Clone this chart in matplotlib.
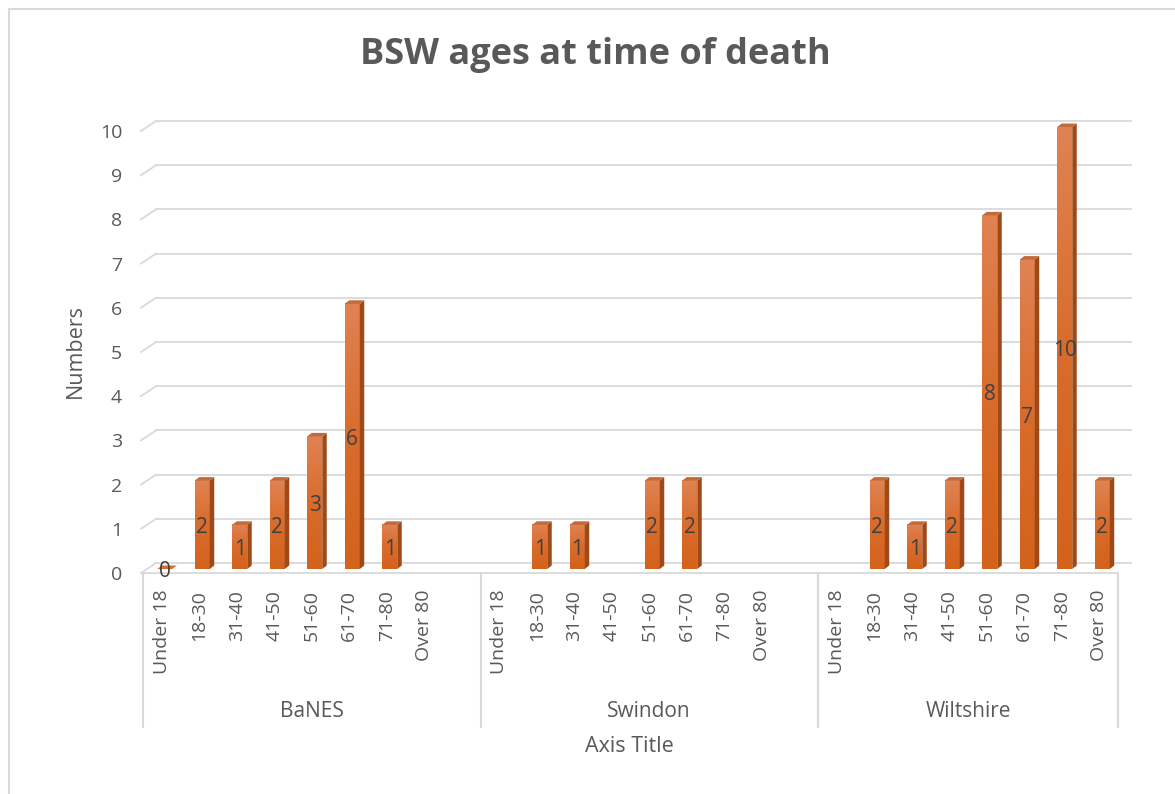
import numpy as np
import matplotlib
matplotlib.use("Agg")
import matplotlib.pyplot as plt
from matplotlib.patches import Polygon, Rectangle
from matplotlib.colors import LinearSegmentedColormap

plt.rcParams['font.family'] = ['Open Sans', 'DejaVu Sans']

# ages at time of death, one list per area (None = no entry)
age_bands = ['Under 18', '18-30', '31-40', '41-50', '51-60', '61-70', '71-80', 'Over 80']
areas = ['BaNES', 'Swindon', 'Wiltshire']
banes = [0, 2, 1, 2, 3, 6, 1, None]
swindon = [None, 1, 1, None, 2, 2, None, None]
wiltshire = [None, 2, 1, 2, 8, 7, 10, 2]

W, H = 1175, 794
fig = plt.figure(figsize=(W / 100, H / 100), dpi=100)
fig.patch.set_facecolor('white')

# plot area in pixels (front plane)
left, right, top, bottom = 143, 1118, 131, 573
ax = fig.add_axes([left / W, 1 - bottom / H, (right - left) / W, (bottom - top) / H])

# lay the groups out with an empty slot after the first two
slots = []
values = []
labels = []
group_spans = []
pos = 0
for gi, (name, vals) in enumerate(zip(areas, [banes, swindon, wiltshire])):
    start = pos
    for band, v in zip(age_bands, vals):
        slots.append(pos)
        values.append(v)
        labels.append(band)
        pos += 1
    group_spans.append((start - 0.5, pos - 0.5))
    if gi < len(areas) - 1:
        pos += 1
n_slots = pos

ax.set_xlim(-0.5, n_slots - 0.5)
ax.set_ylim(0, 10)

# pixel -> data unit conversions
ppx = (right - left) / n_slots
ppy = (bottom - top) / 10.0

grid_c = '#D9D9D9'
text_c = '#595959'

# back wall gridlines with the side wall step
wall_dx, wall_dy = 13 / ppx, 10 / ppy
x0, x1 = -0.5, n_slots - 0.5
for g in range(11):
    ax.plot([x0 + wall_dx, x1 + wall_dx], [g + wall_dy, g + wall_dy],
            color=grid_c, lw=1.3, clip_on=False, zorder=1)
    ax.plot([x0 - 2 / ppx, x0 + wall_dx], [g, g + wall_dy],
            color=grid_c, lw=1.3, clip_on=False, zorder=1)
# front edge of the floor
ax.plot([x0 - 2 / ppx, x1], [0, 0], color=grid_c, lw=1.3, clip_on=False, zorder=1)

# 3-D looking columns
bar_w = 15 / ppx
off_x, off_y = 3 / ppx, 4 / ppy
dep_x, dep_y = 4.5 / ppx, 3.5 / ppy
grad = LinearSegmentedColormap.from_list('col', ['#D3621B', '#D96C2C', '#E08253'])
side_c = '#9E4A18'
top_c = '#C26A3A'

for s, v in zip(slots, values):
    if v is None:
        continue
    bx0 = s - bar_w / 2 + off_x
    bx1 = bx0 + bar_w
    by0 = off_y
    by1 = v + off_y
    if v > 0:
        img = np.linspace(0, 1, 100).reshape(-1, 1)
        ax.imshow(img, cmap=grad, origin='lower', aspect='auto',
                  extent=[bx0, bx1, by0, by1], zorder=3, clip_on=False)
        ax.add_patch(Polygon([[bx1, by0], [bx1 + dep_x, by0 + dep_y],
                              [bx1 + dep_x, by1 + dep_y], [bx1, by1]],
                             closed=True, facecolor=side_c, edgecolor='none',
                             zorder=3, clip_on=False))
    ax.add_patch(Polygon([[bx0, by1], [bx0 + dep_x, by1 + dep_y],
                          [bx1 + dep_x, by1 + dep_y], [bx1, by1]],
                         closed=True, facecolor=top_c if v > 0 else '#D96C2C',
                         edgecolor='none', zorder=3, clip_on=False))
    ax.text(s + off_x, v / 2 + off_y * 0.3, str(v), ha='center', va='center',
            fontsize=15, color='#404040', zorder=5)

ax.set_xlim(-0.5, n_slots - 0.5)
ax.set_ylim(0, 10)

for sp in ax.spines.values():
    sp.set_visible(False)
ax.set_facecolor('none')

ax.set_yticks(range(11))
ax.tick_params(axis='y', length=0, pad=15, labelsize=14, labelcolor=text_c)
ax.set_xticks(slots)
ax.set_xticklabels(labels, rotation=90)
ax.tick_params(axis='x', length=0, pad=12, labelsize=14, labelcolor=text_c)

# multi-level category axis: separators and area names
xt = ax.get_xaxis_transform()
sep_bottom = -(727 - bottom) / (bottom - top)
edges = sorted(set([g[0] for g in group_spans] + [group_spans[-1][1]]))
for e in edges:
    ax.plot([e, e], [0, sep_bottom], color=grid_c, lw=1.5, transform=xt, clip_on=False)
for name, (a, b) in zip(areas, group_spans):
    if name == areas[-1]:
        b = n_slots - 0.5
    else:
        b = b + 1
    ax.text((a + b) / 2, -(712 - bottom) / (bottom - top), name, transform=xt,
            ha='center', va='center', fontsize=15, color=text_c)

fig.text(595 / W, 1 - 55 / H, 'BSW ages at time of death', ha='center', va='center',
         fontsize=26, fontweight='bold', color=text_c)
fig.text(629 / W, 1 - 746 / H, 'Axis Title', ha='center', va='center',
         fontsize=15.5, color=text_c)
fig.text(75 / W, 1 - 351 / H, 'Numbers', ha='center', va='center', rotation=90,
         fontsize=15.5, color=text_c)

# chart border
fig.add_artist(Rectangle((9 / W, -0.1), 1.2, (H - 9) / H + 0.1, transform=fig.transFigure,
                         fill=False, edgecolor=grid_c, lw=1.5))

fig.savefig('out.png', dpi=100)
